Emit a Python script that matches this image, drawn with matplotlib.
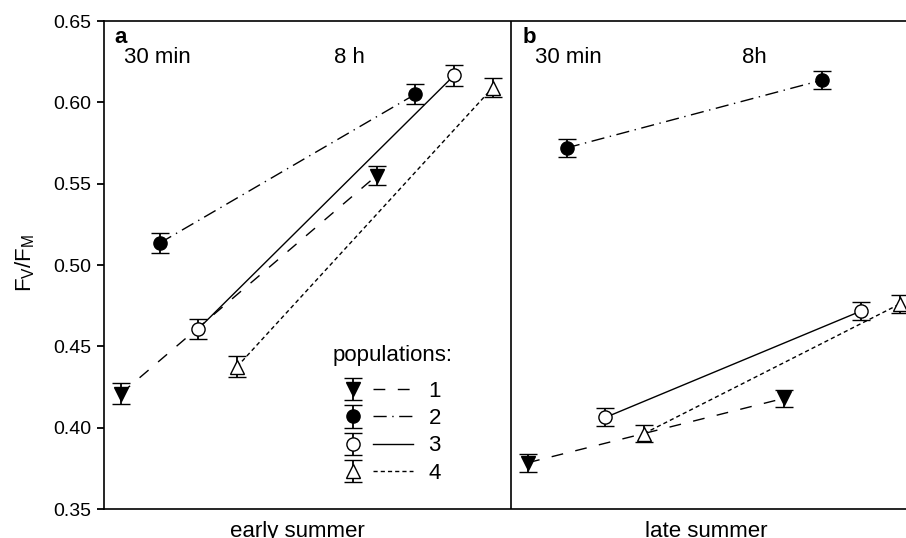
import matplotlib
matplotlib.use("Agg")
import matplotlib.pyplot as plt
from matplotlib.lines import Line2D
from matplotlib.legend_handler import HandlerTuple

plt.rcParams['font.family'] = ['Liberation Sans', 'DejaVu Sans']
plt.rcParams['mathtext.fontset'] = 'custom'
plt.rcParams['mathtext.rm'] = 'Liberation Sans'

# ---- data ----
populations = ['1', '2', '3', '4']
times = ['30 min', '8 h']
seasons = ['early summer', 'late summer']

early_1 = [0.421, 0.555]
early_2 = [0.5135, 0.605]
early_3 = [0.4608, 0.6165]
early_4 = [0.4375, 0.609]
late_1 = [0.3785, 0.418]
late_2 = [0.572, 0.6137]
late_3 = [0.4063, 0.4717]
late_4 = [0.3964, 0.476]

early_err_1 = [0.0064, 0.0061]
early_err_2 = [0.0063, 0.0062]
early_err_3 = [0.0063, 0.0063]
early_err_4 = [0.0063, 0.0060]
late_err_1 = [0.0056, 0.0053]
late_err_2 = [0.0056, 0.0055]
late_err_3 = [0.0055, 0.0053]
late_err_4 = [0.0053, 0.0053]

early = [early_1, early_2, early_3, early_4]
late = [late_1, late_2, late_3, late_4]
early_err = [early_err_1, early_err_2, early_err_3, early_err_4]
late_err = [late_err_1, late_err_2, late_err_3, late_err_4]

# ---- layout / style ----
time_base = [0.042, 0.670]
pop_step = 0.095
styles = [
    dict(marker='v', mfc='black', ls=(0, (8.5, 9))),
    dict(marker='o', mfc='black', ls=(0, (9.5, 4, 1, 4))),
    dict(marker='o', mfc='white', ls='-'),
    dict(marker='^', mfc='white', ls=(0, (3, 2.2))),
]

fig = plt.figure(figsize=(9.06, 5.38), dpi=100)
ax = fig.add_axes([104 / 906, 29 / 538, 814 / 906, 488 / 538])

lw_sp = 1.2
for s in ['top', 'bottom', 'left']:
    ax.spines[s].set_linewidth(lw_sp)
ax.spines['right'].set_visible(False)

handles = []
for k in range(4):
    st = styles[k]
    for panel, vals, errs in [(0, early, early_err), (1, late, late_err)]:
        xs = [panel + time_base[t] + pop_step * k for t in range(2)]
        ax.plot(xs, vals[k], color='black', lw=1.0, ls=st['ls'], zorder=2)
        eb = ax.errorbar(xs, vals[k], yerr=errs[k], fmt=st['marker'], ms=9.5,
                         mfc=st['mfc'], mec='black', mew=1.0, ecolor='black',
                         elinewidth=1.3, capsize=6.5, capthick=1.8, zorder=3)
    ln = Line2D([], [], color='black', lw=1.0, ls=st['ls'])
    handles.append((eb, ln))

ax.axvline(1, color='black', lw=lw_sp)
ax.set_xlim(0, 2)
ax.set_ylim(0.35, 0.65)
ax.set_yticks([0.35, 0.40, 0.45, 0.50, 0.55, 0.60, 0.65])
ax.set_yticklabels(['0.35', '0.40', '0.45', '0.50', '0.55', '0.60', '0.65'])
ax.set_xticks([])
ax.tick_params(axis='y', direction='out', length=5, width=1.3, labelsize=14, pad=4)

# panel annotations
ax.text(0.025, 0.640, 'a', fontsize=16, fontweight='bold', ha='left', va='center')
ax.text(0.049, 0.6276, times[0], fontsize=16, ha='left', va='center')
ax.text(0.602, 0.6276, '8 h', fontsize=16, ha='center', va='center')
ax.text(1.029, 0.640, 'b', fontsize=16, fontweight='bold', ha='left', va='center')
ax.text(1.059, 0.6276, times[0], fontsize=16, ha='left', va='center')
ax.text(1.597, 0.6276, '8h', fontsize=16, ha='center', va='center')

ax.text(0.474, 0.3425, seasons[0], fontsize=16, ha='center', va='top')
ax.text(1.479, 0.3425, seasons[1], fontsize=16, ha='center', va='top')

fig.text(25 / 906, 1 - 262.5 / 538, r'F$_\mathregular{V}$/F$_\mathregular{M}$',
         fontsize=16, rotation=90, ha='center', va='center')

fig.text(333 / 906, 1 - 355 / 538, 'populations:', fontsize=16, ha='left', va='center')

leg = ax.legend(handles, populations, handler_map={tuple: HandlerTuple(ndivide=None, pad=0)},
                fontsize=16, frameon=False,
                handlelength=3.6, handletextpad=0.7, labelspacing=0.28,
                borderpad=0, borderaxespad=0,
                loc='upper left', bbox_to_anchor=(333 / 906, 1 - 381 / 538),
                bbox_transform=fig.transFigure)

fig.savefig('out.png', dpi=100)
